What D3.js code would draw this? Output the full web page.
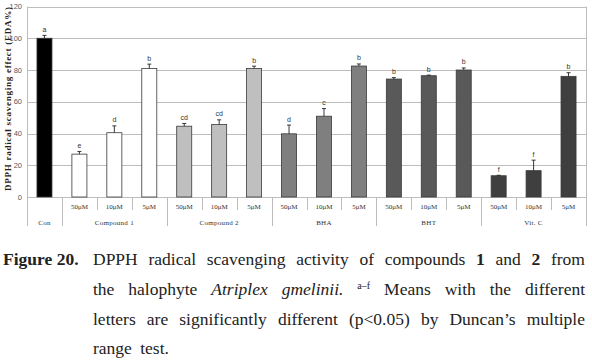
<!DOCTYPE html>
<html>
<head>
<meta charset="utf-8">
<script src="https://cdn.jsdelivr.net/npm/d3@7"></script>
<style>
  body { margin: 0; background: #fff; }
  #wrap { position: relative; width: 592px; height: 363px; overflow: hidden; }
  #chart { position: absolute; left: 0; top: 0; }
  .cap { position: absolute; font-family: "Liberation Serif", serif; font-size: 17.5px; color: #222; line-height: 29.8px; top: 245px; }
  .fig { left: 3px; font-weight: bold; }
  .body { left: 93px; width: 492px; }
  .body div { text-align: justify; text-align-last: justify; white-space: nowrap; }
  .body div.last { text-align-last: left; word-spacing: 4px; }
  sup { font-size: 10px; vertical-align: 6px; line-height: 0; }
  svg text { -webkit-font-smoothing: antialiased; }
</style>
</head>
<body>
<div id="wrap">
  <svg id="chart" width="592" height="240"></svg>
  <div class="cap fig">Figure 20.</div>
  <div class="cap body">
    <div>DPPH radical scavenging activity of compounds <b>1</b> and <b>2</b> from</div>
    <div>the halophyte <i>Atriplex gmelinii.</i> <sup>a–f</sup> Means with the different</div>
    <div>letters are significantly different (p&lt;0.05) by Duncan’s multiple</div>
    <div class="last">range test.</div>
  </div>
</div>
<script>
// chart values
var groupNames = ['Con', 'Compound 1', 'Compound 2', 'BHA', 'BHT', 'Vit. C']
var groupSizes = [1, 3, 3, 3, 3, 3]
var groupColors = ['#000000', '#ffffff', '#bfbfbf', '#7f7f7f', '#595959', '#3f3f3f']
var doseLabels = ['', '50μM', '10μM', '5μM', '50μM', '10μM', '5μM', '50μM', '10μM', '5μM',
  '50μM', '10μM', '5μM', '50μM', '10μM', '5μM']
var means = [100, 27, 40.5, 81, 44.6, 45.7, 80.9, 39.8, 50.9, 82.5, 74.3, 76.4, 80, 13.4, 16.6, 76]
var errors = [1.8, 1.7, 4.3, 2.7, 1.7, 2.9, 1.5, 5.5, 4.8, 1.3, 0.9, 0.4, 1.3, 0.3, 6.6, 2.3]
var letters = ['a', 'e', 'd', 'b', 'cd', 'cd', 'b', 'd', 'c', 'b', 'b', 'b', 'b', 'f', 'f', 'b']
var yTicks = [0, 20, 40, 60, 80, 100, 120]

var svg = d3.select('#chart')
  , plotLeft = 27
  , plotRight = 586
  , plotTop = 6.5
  , plotBottom = 197
  , idx = d3.range(means.length)
  , x = d3.scaleBand().domain(idx).range([plotLeft, plotRight]).padding(0)
  , y = d3.scaleLinear().domain([0, 120]).range([plotBottom, plotTop])
  , barW = x.bandwidth() * 0.43

// which group each bar belongs to
var groupOf = []
groupSizes.forEach(function(n, g) { for (var i = 0; i < n; i++) groupOf.push(g) })

// gridlines
svg.selectAll('line.grid').data(yTicks).enter().append('line')
  .attr('class', 'grid')
  .attr('x1', plotLeft).attr('x2', plotRight)
  .attr('y1', function(d) { return Math.round(y(d)) + 0.5 })
  .attr('y2', function(d) { return Math.round(y(d)) + 0.5 })
  .attr('stroke', '#bdbdbd').attr('stroke-width', 1)

// y axis labels
svg.selectAll('text.ytick').data(yTicks).enter().append('text')
  .attr('class', 'ytick')
  .attr('x', 22).attr('y', function(d) { return y(d) + 2.5 })
  .attr('text-anchor', 'end')
  .style('font-family', 'Liberation Sans, Arial, sans-serif')
  .style('font-size', '7.5px').style('fill', '#595959')
  .text(function(d) { return d })

// y axis title
svg.append('text')
  .attr('transform', 'translate(11,' + 99 + ') rotate(-90)')
  .attr('text-anchor', 'middle')
  .attr('textLength', 184).attr('lengthAdjust', 'spacing')
  .style('font-family', 'Liberation Serif, serif')
  .style('font-weight', 'bold').style('font-size', '9px').style('fill', '#222')
  .text('DPPH radical scavenging effect (EDA%)')

// axis frame lines
svg.append('line').attr('x1', plotLeft + 0.5).attr('x2', plotLeft + 0.5).attr('y1', plotTop).attr('y2', 226)
  .attr('stroke', '#bdbdbd')
svg.append('line').attr('x1', plotRight + 0.5).attr('x2', plotRight + 0.5).attr('y1', plotTop).attr('y2', 226)
  .attr('stroke', '#bdbdbd')

// category tick lines: group edges go deeper
d3.range(1, means.length).forEach(function(i) {
  var isEdge = groupOf[i] !== groupOf[i - 1]
  svg.append('line')
    .attr('x1', Math.round(x(i)) + 0.5).attr('x2', Math.round(x(i)) + 0.5)
    .attr('y1', plotBottom).attr('y2', isEdge ? 226 : 210)
    .attr('stroke', '#bdbdbd')
})

// bars
svg.selectAll('rect.bar').data(idx).enter().append('rect')
  .attr('class', 'bar')
  .attr('x', function(i) { return x(i) + (x.bandwidth() - barW) / 2 })
  .attr('y', function(i) { return y(means[i]) })
  .attr('width', barW)
  .attr('height', function(i) { return plotBottom - y(means[i]) })
  .attr('fill', function(i) { return groupColors[groupOf[i]] })
  .attr('stroke', '#3a3a3a').attr('stroke-width', 0.8)

// error bars (upper whisker only)
idx.forEach(function(i) {
  var cx = x(i) + x.bandwidth() / 2
  svg.append('line').attr('x1', cx).attr('x2', cx)
    .attr('y1', y(means[i])).attr('y2', y(means[i] + errors[i]))
    .attr('stroke', '#222').attr('stroke-width', 0.9)
  svg.append('line').attr('x1', cx - 2).attr('x2', cx + 2)
    .attr('y1', y(means[i] + errors[i])).attr('y2', y(means[i] + errors[i]))
    .attr('stroke', '#222').attr('stroke-width', 0.9)
})

// significance letters
svg.selectAll('text.sig').data(idx).enter().append('text')
  .attr('class', 'sig')
  .attr('x', function(i) { return x(i) + x.bandwidth() / 2 })
  .attr('y', function(i) { return y(means[i] + errors[i]) - 3.5 })
  .attr('text-anchor', 'middle')
  .style('font-family', 'Liberation Sans, Arial, sans-serif')
  .style('font-size', '7px').style('fill', '#333')
  .text(function(i) { return letters[i] })

// dose labels
svg.selectAll('text.dose').data(idx).enter().append('text')
  .attr('class', 'dose')
  .attr('x', function(i) { return x(i) + x.bandwidth() / 2 })
  .attr('y', 209)
  .attr('text-anchor', 'middle')
  .style('font-family', 'Liberation Serif, serif')
  .style('font-size', '7px').style('fill', '#333')
  .text(function(i) { return doseLabels[i] })

// group labels
var start = 0
groupNames.forEach(function(name, g) {
  var first = start, last = start + groupSizes[g] - 1
  start += groupSizes[g]
  svg.append('text')
    .attr('x', (x(first) + x(last) + x.bandwidth()) / 2)
    .attr('y', 225)
    .attr('text-anchor', 'middle')
    .style('font-family', 'Liberation Serif, serif')
    .style('font-size', '7px').style('letter-spacing', '0.3px').style('fill', '#333')
    .text(name)
})
</script>
</body>
</html>
